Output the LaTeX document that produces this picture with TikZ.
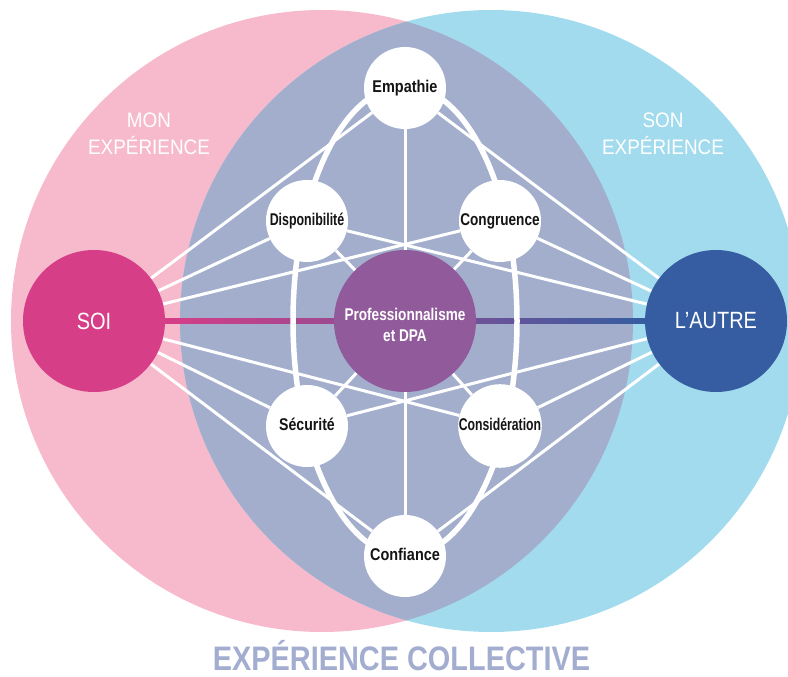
\documentclass[tikz,border=0pt]{standalone}
\usepackage{fontspec}
\usepackage{graphicx}
\setmainfont{Liberation Sans}
\newfontfamily\labfont{Liberation Sans}[FakeStretch=0.8]
\newfontfamily\bigfont{Liberation Sans}[FakeStretch=0.85]
\newfontfamily\expfont{Liberation Sans}[FakeStretch=0.9]
\newcommand\sx[2]{\scalebox{#1}[1]{#2}}
\definecolor{pinkbg}{HTML}{F7B9CC}
\definecolor{bluebg}{HTML}{A2DBEE}
\definecolor{lens}{HTML}{A2AECC}
\definecolor{soic}{HTML}{D63E87}
\definecolor{profc}{HTML}{915A9B}
\definecolor{autrec}{HTML}{365DA1}
\definecolor{titlec}{HTML}{A3ADD0}
\pgfdeclarelayer{back}
\pgfdeclarelayer{mid}
\pgfsetlayers{back,mid,main}
\begin{document}
\begin{tikzpicture}[x=1pt,y=-1pt,
  outer/.style={circle,fill=white,minimum size=82pt,inner sep=0pt,
    font=\bfseries\fontsize{17}{20}\selectfont,text=black!92,
    text height=12pt,text depth=3.5pt},
  big/.style={circle,minimum size=142pt,inner sep=0pt,text=white,
    font=\bigfont\fontsize{23.5}{26}\selectfont},
  link/.style={white,line width=3pt},
  ring/.style={white,line width=5.5pt},
  exptxt/.style={text=white,font=\expfont\fontsize{21}{27}\selectfont,
    align=center,inner sep=0pt,anchor=north}
]
\useasboundingbox (0,0) rectangle (788,677);

% nodes
\node[outer] (emp)  at (405,88)  {\sx{0.85}{Empathie}};
\node[outer] (dis)  at (307,221) {\sx{0.73}{Disponibilité}};
\node[outer] (con)  at (500,221) {\sx{0.80}{Congruence}};
\node[outer] (sec)  at (307,426) {\sx{0.83}{Sécurité}};
\node[outer] (cons) at (500,426) {\sx{0.72}{Considération}};
\node[outer] (conf) at (405,556) {\sx{0.85}{Confiance}};
\node[big,fill=profc,
  label={[text=white,font=\labfont\bfseries\fontsize{17}{21}\selectfont,
          align=center,yshift=-4pt]center:Professionnalisme\\et DPA}]
  (pro) at (405,321) {};
\node[big,fill=soic]   (soi) at (94,321)  {SOI};
\node[big,fill=autrec] (aut) at (716,321) {L’AUTRE};

% background circles
\begin{pgfonlayer}{back}
  \fill[pinkbg] (322,321) circle[radius=311];
  \fill[bluebg] (491,321) circle[radius=311];
  \begin{scope}
    \clip (322,321) circle[radius=311];
    \fill[lens] (491,321) circle[radius=311];
  \end{scope}
\end{pgfonlayer}

% connectors
\begin{pgfonlayer}{mid}
  \shade[left color=soic,middle color=profc,right color=autrec]
    ([yshift=2.5pt]soi.east) rectangle ([yshift=-2.5pt]aut.west);
  \draw[ring] (pro.center) ellipse[x radius=112,y radius=235];
  \foreach \n in {emp,dis,con,sec,cons,conf}{
    \draw[link] (soi) -- (\n);
    \draw[link] (aut) -- (\n);
  }
  \foreach \n in {dis,con,sec,cons}{
    \draw[link] (pro) -- (\n);
  }
  \draw[link] (emp) -- (conf);
\end{pgfonlayer}

% texts
\node[exptxt] (mon) at (149,113) {MON\\EXPÉRIENCE};
\node[exptxt] (son) at (663,113) {SON\\EXPÉRIENCE};
\node[font=\bigfont\bfseries\fontsize{34}{40}\selectfont,text=titlec,
  anchor=base,inner sep=0pt] (title) at (401.5,670) {EXPÉRIENCE COLLECTIVE};
\end{tikzpicture}
\end{document}
